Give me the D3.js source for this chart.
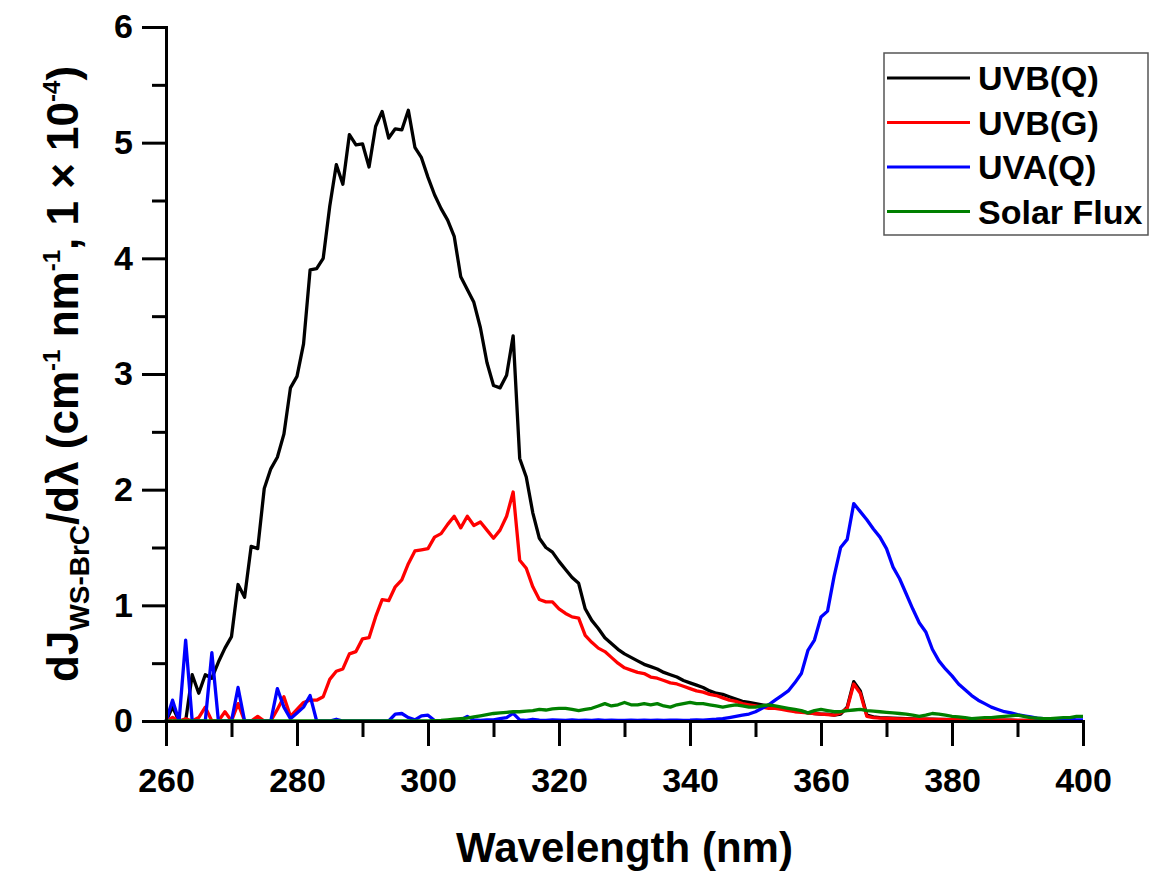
<!DOCTYPE html>
<html>
<head>
<meta charset="utf-8">
<script src="https://cdn.jsdelivr.net/npm/d3@7"></script>
<style>
  html, body { margin: 0; padding: 0; background: #fff; }
  svg { display: block; }
  text { font-family: "Liberation Sans", Arial, sans-serif; font-weight: bold; fill: #000; }
</style>
</head>
<body>
<svg id="chart" width="1154" height="872"></svg>
<script>
// Wavelength grid (nm), 1 nm steps from 260 to 400
const wavelengths = d3.range(260, 401, 1);

// dJ/dλ spectra (×1e-4), one value per nm, rows of ten starting at 260, 270, ...
const uvbQ = [
  0, 0.12, 0, 0, 0.40, 0.24, 0.40, 0.37, 0.51, 0.63,
  0.73, 1.18, 1.07, 1.51, 1.49, 2.01, 2.18, 2.28, 2.48, 2.88,
  2.98, 3.26, 3.90, 3.91, 4.00, 4.45, 4.81, 4.64, 5.07, 4.98,
  4.99, 4.79, 5.14, 5.27, 5.04, 5.12, 5.11, 5.28, 4.96, 4.87,
  4.70, 4.55, 4.43, 4.33, 4.19, 3.84, 3.73, 3.62, 3.40, 3.10,
  2.90, 2.88, 2.99, 3.33, 2.27, 2.11, 1.80, 1.58, 1.50, 1.46,
  1.38, 1.31, 1.24, 1.19, 0.97, 0.87, 0.80, 0.72, 0.67, 0.62,
  0.58, 0.55, 0.52, 0.49, 0.47, 0.45, 0.42, 0.40, 0.38, 0.35,
  0.33, 0.31, 0.29, 0.26, 0.24, 0.23, 0.21, 0.19, 0.17, 0.16,
  0.15, 0.14, 0.13, 0.12, 0.11, 0.10, 0.09, 0.08, 0.07, 0.065,
  0.06, 0.06, 0.05, 0.06, 0.12, 0.34, 0.26, 0.05, 0.035, 0.03,
  0.027, 0.025, 0.022, 0.02, 0.018, 0.017, 0.016, 0.015, 0.014, 0.013,
  0.012, 0.011, 0.010, 0.010, 0.009, 0.009, 0.008, 0.008, 0.007, 0.007,
  0.006, 0.006, 0.005, 0.005, 0.005, 0.004, 0.004, 0.004, 0.003, 0.003,
  0.003
];

const uvbG = [
  0, 0.03, 0, 0.02, 0, 0.03, 0.12, 0, 0, 0.08,
  0, 0.15, 0, 0, 0.04, 0, 0, 0.10, 0.21, 0.04,
  0.10, 0.16, 0.18, 0.18, 0.21, 0.36, 0.43, 0.45, 0.58, 0.60,
  0.71, 0.72, 0.90, 1.05, 1.04, 1.16, 1.22, 1.36, 1.47, 1.48,
  1.49, 1.59, 1.62, 1.70, 1.77, 1.67, 1.77, 1.69, 1.72, 1.65,
  1.58, 1.65, 1.77, 1.98, 1.39, 1.32, 1.16, 1.05, 1.03, 1.03,
  0.97, 0.93, 0.90, 0.89, 0.74, 0.68, 0.63, 0.60, 0.55, 0.50,
  0.46, 0.44, 0.42, 0.41, 0.38, 0.37, 0.35, 0.33, 0.32, 0.30,
  0.28, 0.26, 0.25, 0.23, 0.22, 0.20, 0.18, 0.17, 0.15, 0.14,
  0.13, 0.12, 0.11, 0.11, 0.10, 0.09, 0.08, 0.075, 0.07, 0.065,
  0.06, 0.055, 0.05, 0.07, 0.11, 0.32, 0.24, 0.04, 0.03, 0.025,
  0.022, 0.02, 0.019, 0.018, 0.017, 0.016, 0.015, 0.014, 0.013, 0.012,
  0.012, 0.011, 0.010, 0.010, 0.009, 0.009, 0.008, 0.008, 0.007, 0.007,
  0.006, 0.006, 0.005, 0.005, 0.005, 0.004, 0.004, 0.004, 0.003, 0.003,
  0.003
];

const uvaQ = [
  0, 0.18, 0, 0.70, 0, 0, 0, 0.59, 0, 0,
  0, 0.29, 0, 0, 0, 0, 0, 0.28, 0.12, 0.02,
  0.07, 0.12, 0.22, 0, 0, 0, 0.015, 0, 0, 0,
  0, 0, 0, 0, 0, 0.06, 0.065, 0.03, 0.01, 0.045,
  0.05, 0.005, 0, 0, 0.005, 0.01, 0.04, 0.01, 0.005, 0.01,
  0.01, 0.02, 0.03, 0.066, 0.01, 0.005, 0.015, 0.008, 0.005, 0.01,
  0.008, 0.005, 0.01, 0.006, 0.008, 0.005, 0.01, 0.006, 0.008, 0.005,
  0.006, 0.008, 0.005, 0.007, 0.006, 0.008, 0.006, 0.007, 0.008, 0.006,
  0.007, 0.01, 0.008, 0.012, 0.015, 0.02, 0.03, 0.04, 0.05, 0.06,
  0.08, 0.11, 0.14, 0.18, 0.22, 0.26, 0.33, 0.41, 0.61, 0.70,
  0.90, 0.95, 1.25, 1.50, 1.57, 1.88, 1.81, 1.74, 1.66, 1.59,
  1.49, 1.33, 1.23, 1.10, 0.97, 0.85, 0.77, 0.62, 0.52, 0.45,
  0.39, 0.32, 0.27, 0.22, 0.18, 0.15, 0.12, 0.10, 0.08, 0.07,
  0.055, 0.045, 0.035, 0.025, 0.02, 0.015, 0.015, 0.02, 0.015, 0.01,
  0.01
];

const solarFlux = [
  0, 0, 0, 0, 0, 0, 0, 0, 0, 0,
  0, 0, 0, 0, 0, 0, 0, 0, 0, 0,
  0, 0, 0, 0, 0, 0, 0, 0, 0, 0,
  0, 0, 0, 0, 0, 0, 0, 0, 0, 0,
  0, 0.003, 0.005, 0.01, 0.015, 0.02, 0.025, 0.035, 0.045, 0.055,
  0.065, 0.07, 0.075, 0.08, 0.08, 0.085, 0.09, 0.10, 0.095, 0.105,
  0.11, 0.11, 0.10, 0.09, 0.10, 0.11, 0.13, 0.15, 0.13, 0.14,
  0.16, 0.14, 0.14, 0.15, 0.14, 0.15, 0.13, 0.12, 0.14, 0.15,
  0.16, 0.15, 0.15, 0.14, 0.13, 0.12, 0.13, 0.14, 0.13, 0.12,
  0.12, 0.13, 0.14, 0.13, 0.12, 0.11, 0.10, 0.09, 0.07, 0.09,
  0.10, 0.09, 0.08, 0.08, 0.09, 0.095, 0.10, 0.09, 0.085, 0.08,
  0.075, 0.07, 0.065, 0.06, 0.05, 0.04, 0.05, 0.065, 0.06, 0.05,
  0.04, 0.035, 0.03, 0.02, 0.025, 0.03, 0.03, 0.035, 0.04, 0.045,
  0.05, 0.04, 0.03, 0.025, 0.02, 0.02, 0.025, 0.03, 0.03, 0.04,
  0.04
];

const seriesNames = ["UVB(Q)", "UVB(G)", "UVA(Q)", "Solar Flux"];
const seriesColors = ["#000000", "#ff0000", "#0000ff", "#008000"];
const seriesValues = [uvbQ, uvbG, uvaQ, solarFlux];

const xMajorTicks = [260, 280, 300, 320, 340, 360, 380, 400];
const xMinorTicks = [270, 290, 310, 330, 350, 370, 390];
const yMajorTicks = [0, 1, 2, 3, 4, 5, 6];
const yMinorTicks = [0.5, 1.5, 2.5, 3.5, 4.5, 5.5];

const svg = d3.select("#chart");
const margin = { left: 166, top: 27, right: 71, bottom: 151 };
const width = 1154 - margin.left - margin.right;
const height = 872 - margin.top - margin.bottom;

const x = d3.scaleLinear().domain([260, 400]).range([0, width]);
const y = d3.scaleLinear().domain([0, 6]).range([height, 0]);

const g = svg.append("g").attr("transform", `translate(${margin.left},${margin.top})`);

// Spectra
const line = d3.line()
  .x((d, i) => x(wavelengths[i]))
  .y(d => y(d));

seriesValues.forEach((vals, k) => {
  g.append("path")
    .datum(vals)
    .attr("fill", "none")
    .attr("stroke", seriesColors[k])
    .attr("stroke-width", 3.3)
    .attr("stroke-linejoin", "round")
    .attr("d", line);
});

// Axes: major ticks with labels, minor ticks without
function styleAxis(sel) {
  sel.selectAll("path.domain").attr("stroke", "#000").attr("stroke-width", 3);
  sel.selectAll(".tick line").attr("stroke", "#000").attr("stroke-width", 3);
}

const xAxisG = g.append("g").attr("transform", `translate(0,${height})`);
xAxisG.append("g")
  .call(d3.axisBottom(x).tickValues(xMinorTicks).tickSize(16).tickFormat(""))
  .call(styleAxis);
xAxisG.append("g")
  .call(d3.axisBottom(x).tickValues(xMajorTicks).tickSize(25).tickPadding(22).tickSizeOuter(0).tickFormat(d3.format("d")))
  .call(styleAxis)
  .selectAll("text").style("font-size", "34px");

const yAxisG = g.append("g");
yAxisG.append("g")
  .call(d3.axisLeft(y).tickValues(yMinorTicks).tickSize(14).tickFormat(""))
  .call(styleAxis);
yAxisG.append("g")
  .call(d3.axisLeft(y).tickValues(yMajorTicks).tickSize(24).tickPadding(9).tickSizeOuter(0).tickFormat(d3.format("d")))
  .call(styleAxis)
  .selectAll("text").style("font-size", "34px");

// Axis titles
svg.append("text")
  .attr("x", margin.left + width / 2)
  .attr("y", 862)
  .attr("text-anchor", "middle")
  .style("font-size", "42px")
  .text("Wavelength (nm)");

const yTitle = svg.append("text")
  .attr("transform", "translate(78,374) rotate(-90)")
  .attr("text-anchor", "middle")
  .style("font-size", "44px");
yTitle.append("tspan").text("dJ");
yTitle.append("tspan").attr("dy", 11).style("font-size", "28px").text("WS-BrC");
yTitle.append("tspan").attr("dy", -11).text("/dλ (cm");
yTitle.append("tspan").attr("dy", -18).style("font-size", "24px").text("-1");
yTitle.append("tspan").attr("dy", 18).text(" nm");
yTitle.append("tspan").attr("dy", -18).style("font-size", "24px").text("-1");
yTitle.append("tspan").attr("dy", 18).text(", 1 × 10");
yTitle.append("tspan").attr("dy", -18).style("font-size", "24px").text("-4");
yTitle.append("tspan").attr("dy", 18).text(")");

// Legend
const legend = svg.append("g");
legend.append("rect")
  .attr("x", 884).attr("y", 53).attr("width", 264).attr("height", 182)
  .attr("fill", "#fff").attr("stroke", "#555").attr("stroke-width", 1.5);
seriesNames.forEach((name, k) => {
  const ly = 78 + k * 44.5;
  legend.append("line")
    .attr("x1", 887).attr("x2", 970).attr("y1", ly).attr("y2", ly)
    .attr("stroke", seriesColors[k]).attr("stroke-width", 3);
  legend.append("text")
    .attr("x", 978).attr("y", ly + 12)
    .style("font-size", "34px")
    .text(name);
});
</script>
</body>
</html>
